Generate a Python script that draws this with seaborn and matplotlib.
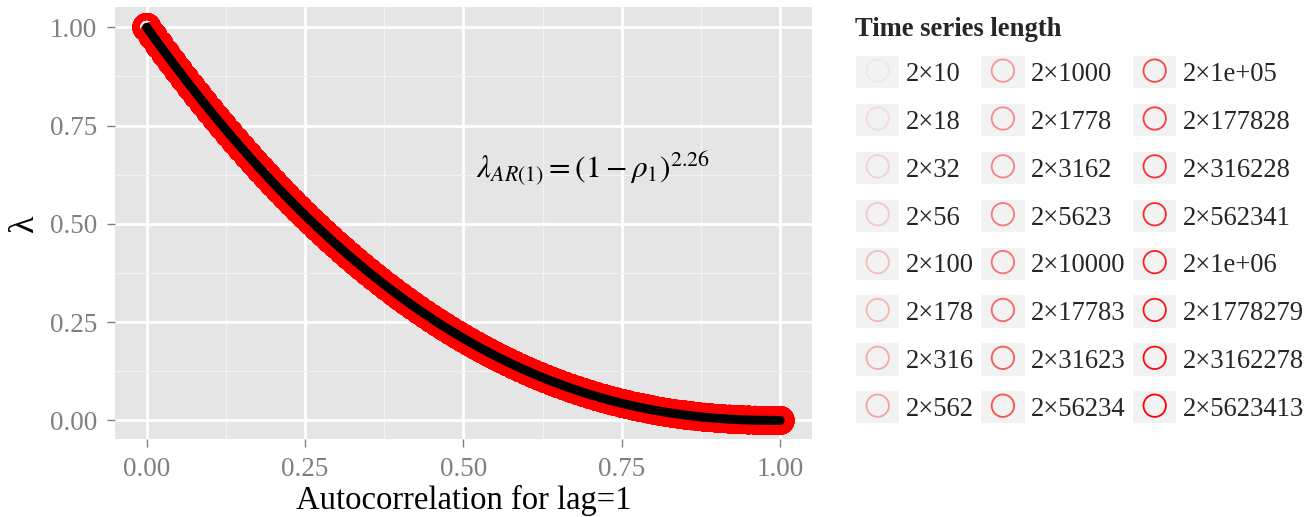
"""
Decay of lambda with lag-1 autocorrelation, AR(1) fit.
"""

import matplotlib

matplotlib.use("Agg")
import matplotlib.pyplot as plt
import numpy as np
import seaborn as sns
from matplotlib.collections import PathCollection
from matplotlib.legend_handler import HandlerPathCollection, HandlerTuple
from matplotlib.patches import Rectangle
from matplotlib.ticker import FormatStrFormatter

# lag-1 autocorrelation values
rho = [
    0.00, 0.01, 0.02, 0.03, 0.04, 0.05, 0.06, 0.07, 0.08, 0.09,
    0.10, 0.11, 0.12, 0.13, 0.14, 0.15, 0.16, 0.17, 0.18, 0.19,
    0.20, 0.21, 0.22, 0.23, 0.24, 0.25, 0.26, 0.27, 0.28, 0.29,
    0.30, 0.31, 0.32, 0.33, 0.34, 0.35, 0.36, 0.37, 0.38, 0.39,
    0.40, 0.41, 0.42, 0.43, 0.44, 0.45, 0.46, 0.47, 0.48, 0.49,
    0.50, 0.51, 0.52, 0.53, 0.54, 0.55, 0.56, 0.57, 0.58, 0.59,
    0.60, 0.61, 0.62, 0.63, 0.64, 0.65, 0.66, 0.67, 0.68, 0.69,
    0.70, 0.71, 0.72, 0.73, 0.74, 0.75, 0.76, 0.77, 0.78, 0.79,
    0.80, 0.81, 0.82, 0.83, 0.84, 0.85, 0.86, 0.87, 0.88, 0.89,
    0.90, 0.91, 0.92, 0.93, 0.94, 0.95, 0.96, 0.97, 0.98, 0.99,
    1.00,
]

# lambda
lam = [
    1.00000, 0.97754, 0.95537, 0.93348, 0.91187, 0.89054, 0.86950, 0.84873, 0.82825, 0.80804,
    0.78812, 0.76847, 0.74909, 0.72999, 0.71116, 0.69261, 0.67433, 0.65632, 0.63859, 0.62112,
    0.60392, 0.58699, 0.57033, 0.55394, 0.53781, 0.52195, 0.50635, 0.49102, 0.47595, 0.46114,
    0.44659, 0.43230, 0.41827, 0.40450, 0.39098, 0.37772, 0.36471, 0.35196, 0.33946, 0.32721,
    0.31522, 0.30347, 0.29197, 0.28071, 0.26970, 0.25894, 0.24842, 0.23815, 0.22811, 0.21832,
    0.20877, 0.19945, 0.19037, 0.18153, 0.17291, 0.16453, 0.15638, 0.14846, 0.14077, 0.13331,
    0.12608, 0.11906, 0.11228, 0.10571, 0.09937, 0.09324, 0.08733, 0.08163, 0.07615, 0.07088,
    0.06581, 0.06096, 0.05631, 0.05187, 0.04763, 0.04359, 0.03975, 0.03610, 0.03265, 0.02939,
    0.02633, 0.02344, 0.02075, 0.01823, 0.01590, 0.01374, 0.01176, 0.00994, 0.00830, 0.00682,
    0.00550, 0.00433, 0.00332, 0.00246, 0.00173, 0.00115, 0.00069, 0.00036, 0.00014, 0.00003,
    0.00000,
]

lengths = [
    "2×10", "2×18", "2×32", "2×56", "2×100", "2×178", "2×316", "2×562",
    "2×1000", "2×1778", "2×3162", "2×5623", "2×10000", "2×17783", "2×31623", "2×56234",
    "2×1e+05", "2×177828", "2×316228", "2×562341", "2×1e+06", "2×1778279", "2×3162278", "2×5623413",
]

sns.set_theme(style="darkgrid")
plt.rcParams["font.family"] = ["Liberation Serif", "DejaVu Serif"]
plt.rcParams["mathtext.fontset"] = "stix"

fig = plt.figure(figsize=(13.1, 5.17), dpi=100)
ax = fig.add_axes([0.0878, 0.151, 0.532, 0.8357])
ax.set_facecolor("#E5E5E5")

# one ring layer per series length, fading in with length
alphas = np.linspace(0.05, 1.0, len(lengths))
handles = []
for lab, a in zip(lengths, alphas):
    sns.scatterplot(
        x=rho, y=lam, ax=ax, marker="o", s=240,
        facecolors="none", edgecolor="red", linewidth=5,
        alpha=a, legend=False, zorder=2,
    )
    handles.append(ax.collections[-1])

sns.lineplot(x=rho, y=lam, ax=ax, color="black", lw=6.5, zorder=3)

ax.text(0.52, 0.64, r"$\lambda_{AR(1)} = \left(1 - \rho_1\right)^{2.26}$",
        fontsize=22.5, va="center", ha="left", color="black")

ax.set_xlim(-0.05, 1.05)
ax.set_ylim(-0.047, 1.052)
ax.set_xticks([0, 0.25, 0.5, 0.75, 1.0])
ax.set_yticks([0, 0.25, 0.5, 0.75, 1.0])
ax.set_xticks([0.125, 0.375, 0.625, 0.875], minor=True)
ax.set_yticks([0.125, 0.375, 0.625, 0.875], minor=True)
ax.xaxis.set_major_formatter(FormatStrFormatter("%.2f"))
ax.yaxis.set_major_formatter(FormatStrFormatter("%.2f"))
ax.grid(which="major", color="white", lw=2)
ax.grid(which="minor", color="#F2F2F2", lw=0.9)
ax.tick_params(which="major", bottom=True, left=True, length=6, width=1,
               color="#7F7F7F", labelcolor="#7F7F7F", labelsize=19.5, pad=7)
ax.tick_params(which="minor", length=0)
for s in ax.spines.values():
    s.set_visible(False)

ax.set_xlabel("Autocorrelation for lag=1", fontsize=23.5, color="black", labelpad=2)
ax.set_ylabel("λ", fontsize=26, color="black", labelpad=6)


def thin_ring(legend_handle, orig_handle):
    # legend keys use thin rings, not the thick plot strokes
    legend_handle.update_from(orig_handle)
    legend_handle.set_linewidth(1.3)


key_bg = Rectangle((0, 0), 1, 1, facecolor="#F2F2F2", edgecolor="white", lw=1.5)
fig.legend(
    [(key_bg, h) for h in handles], lengths, ncol=3, loc="upper left",
    bbox_to_anchor=(0.6527, 0.968),
    handler_map={
        tuple: HandlerTuple(ndivide=1, pad=0),
        PathCollection: HandlerPathCollection(
            sizes=[260], yoffsets=[0.303], update_func=thin_ring),
    },
    frameon=False, title="Time series length",
    title_fontproperties={"weight": "bold", "size": 19.2},
    fontsize=19.2, scatterpoints=1,
    handlelength=1.7, handleheight=1.6,
    handletextpad=0.19, columnspacing=0.25, labelspacing=0.51,
    alignment="left", borderpad=0, borderaxespad=0,
)

fig.savefig("out.png", dpi=100)
plt.close(fig)
